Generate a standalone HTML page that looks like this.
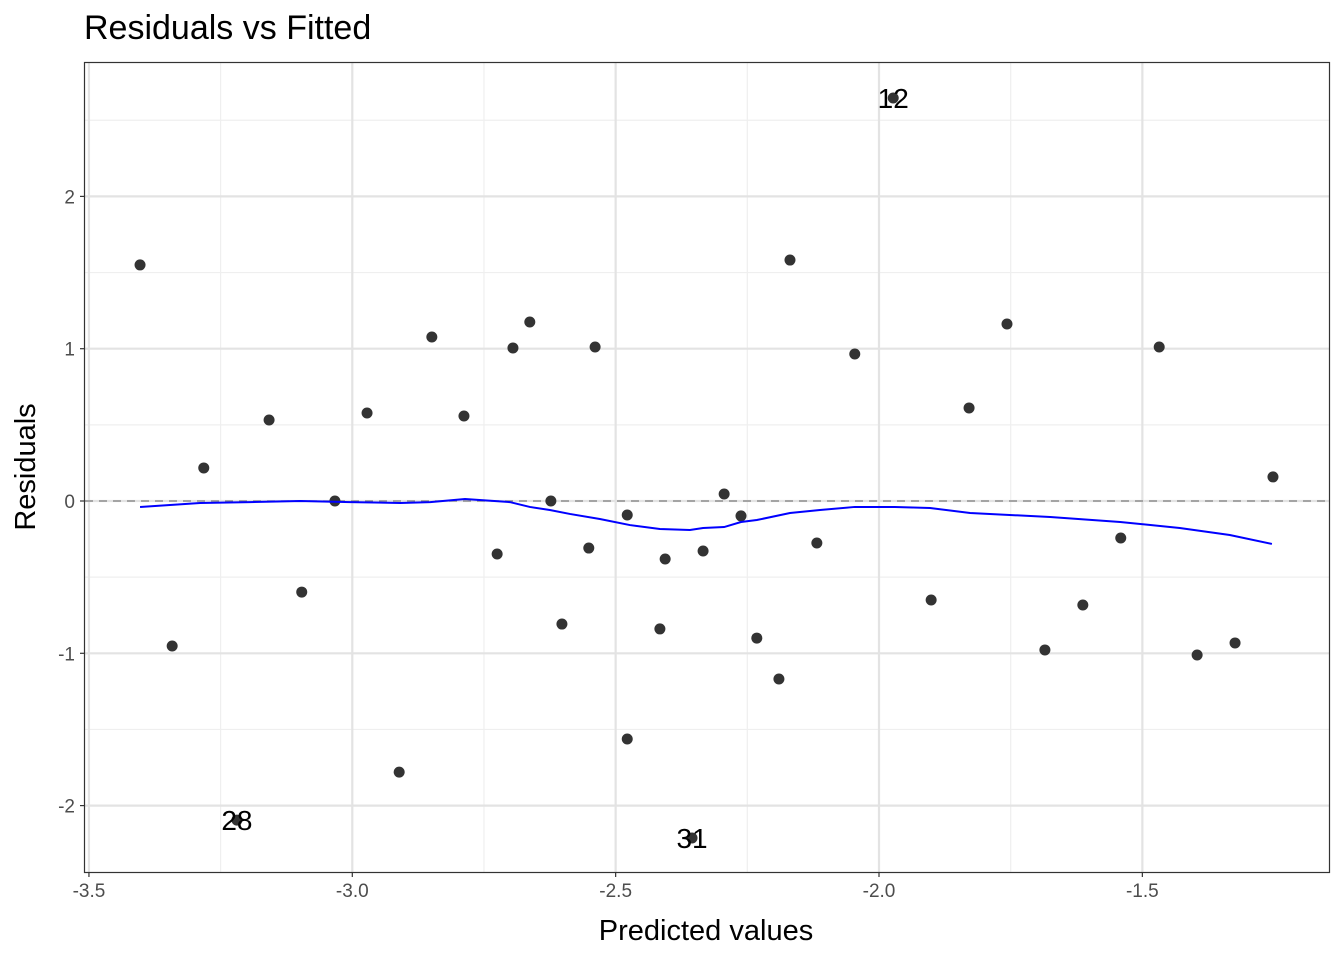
<!DOCTYPE html>
<html><head><meta charset="utf-8"><style>
body{margin:0;background:#fff;}
svg text{font-family:"Liberation Sans",sans-serif;}
</style></head><body>
<svg id="chart" width="1344" height="960" xmlns="http://www.w3.org/2000/svg">
<rect width="1344" height="960" fill="#fff"/>
<text x="84" y="39" font-size="34" fill="#000">Residuals vs Fitted</text>
<g id="grid"></g>
<g id="marks"></g>
<rect x="84.5" y="62.5" width="1245" height="810" fill="none" stroke="#333" stroke-width="1.2"/>
<g id="axes"></g>
<text x="706" y="940" font-size="29" text-anchor="middle" fill="#000">Predicted values</text>
<text transform="translate(35,467) rotate(-90)" font-size="29" text-anchor="middle" fill="#000">Residuals</text>
</svg>
<script>
const fittedX=[-3.403,-3.342,-3.282,-3.158,-3.096,-3.033,-2.972,-2.911,-2.849,-2.788,-2.725,-2.695,-2.663,-2.623,-2.602,-2.551,-2.539,-2.478,-2.478,-2.416,-2.406,-2.355,-2.334,-2.294,-2.262,-2.232,-2.19,-2.169,-2.118,-2.046,-1.973,-1.901,-1.829,-1.757,-1.685,-1.613,-1.541,-1.468,-1.396,-1.324,-1.252,-3.219];
const residualY=[1.55,-0.952,0.217,0.532,-0.598,0.0,0.578,-1.78,1.077,0.558,-0.348,1.005,1.175,0.0,-0.808,-0.309,1.011,-0.092,-1.563,-0.84,-0.381,-2.213,-0.328,0.046,-0.098,-0.9,-1.169,1.582,-0.276,0.965,2.646,-0.65,0.611,1.162,-0.978,-0.683,-0.243,1.011,-1.011,-0.932,0.158,-2.095];
const labelNames=["12","28","31"];
const labelX=[-1.973,-3.219,-2.355];
const labelY=[2.646,-2.095,-2.213];
const smoothX=[-3.403,-3.289,-3.194,-3.099,-3.004,-2.909,-2.852,-2.786,-2.701,-2.663,-2.625,-2.587,-2.530,-2.473,-2.416,-2.359,-2.334,-2.294,-2.262,-2.232,-2.169,-2.112,-2.046,-1.970,-1.903,-1.827,-1.675,-1.542,-1.429,-1.334,-1.254];
const smoothY=[-0.039,-0.013,-0.007,0,-0.007,-0.013,-0.007,0.013,-0.007,-0.039,-0.059,-0.085,-0.118,-0.158,-0.184,-0.19,-0.177,-0.171,-0.138,-0.125,-0.079,-0.059,-0.039,-0.039,-0.046,-0.079,-0.105,-0.138,-0.177,-0.223,-0.282];
const xTicks=[-3.5,-3.0,-2.5,-2.0,-1.5];
const xTickLabels=["-3.5","-3.0","-2.5","-2.0","-1.5"];
const yTicks=[-2,-1,0,1,2];
const yTickLabels=["-2","-1","0","1","2"];
const xMinor=[-3.25,-2.75,-2.25,-1.75];
const yMinor=[-2.5,-1.5,-0.5,0.5,1.5,2.5];

const L=85,R=1329,T=63,B=872;
const sx=v=>879+(v+2)*526.7;
const sy=v=>501-v*152.3;
const NS="http://www.w3.org/2000/svg";
function mk(tag,attrs,parent){const e=document.createElementNS(NS,tag);for(const k in attrs)e.setAttribute(k,attrs[k]);parent.appendChild(e);return e;}
const grid=document.getElementById('grid'),marks=document.getElementById('marks'),axes=document.getElementById('axes');
yMinor.forEach(v=>{const y=sy(v);if(y<T||y>B)return;const l=mk('line',{x1:L,x2:R,y1:y,y2:y,stroke:'#efefef','stroke-width':1.2},grid);

});
xMinor.forEach(v=>{const x=sx(v);const l=mk('line',{x1:x,x2:x,y1:T,y2:B,stroke:'#efefef','stroke-width':1.2},grid);

});
yTicks.forEach((v,i)=>{const y=sy(v);const l=mk('line',{x1:L,x2:R,y1:y,y2:y,stroke:'#e3e3e3','stroke-width':2.2},grid);


const t=mk('line',{x1:L-5,x2:L,y1:y,y2:y,stroke:'#333','stroke-width':1.2},axes);


const tx=mk('text',{x:L-10,y:y+7,'font-size':19,'text-anchor':'end',fill:'#4d4d4d'},axes);tx.textContent=yTickLabels[i];

});
xTicks.forEach((v,i)=>{const x=sx(v);const l=mk('line',{x1:x,x2:x,y1:T,y2:B,stroke:'#e3e3e3','stroke-width':2.2},grid);


const t=mk('line',{x1:x,x2:x,y1:B,y2:B+5,stroke:'#333','stroke-width':1.2},axes);


const tx=mk('text',{x:x,y:B+25,'font-size':19,'text-anchor':'middle',fill:'#4d4d4d'},axes);tx.textContent=xTickLabels[i];

});
const zl=mk('line',{x1:L,x2:R,y1:sy(0),y2:sy(0),stroke:'#7f7f7f','stroke-width':1.2,'stroke-dasharray':'8,6'},marks);


fittedX.forEach((v,i)=>{const c=mk('circle',{cx:sx(v),cy:sy(residualY[i]),r:5.5,fill:'#333'},marks);

});
const p=mk('polyline',{points:smoothX.map((v,i)=>sx(v)+','+sy(smoothY[i])).join(' '),fill:'none',stroke:'#0000ff','stroke-width':2},marks);


labelNames.forEach((n,i)=>{const t=mk('text',{x:sx(labelX[i]),y:sy(labelY[i])+10,'font-size':28,'text-anchor':'middle',fill:'#000'},marks);t.textContent=n;

});
</script>
</body></html>
